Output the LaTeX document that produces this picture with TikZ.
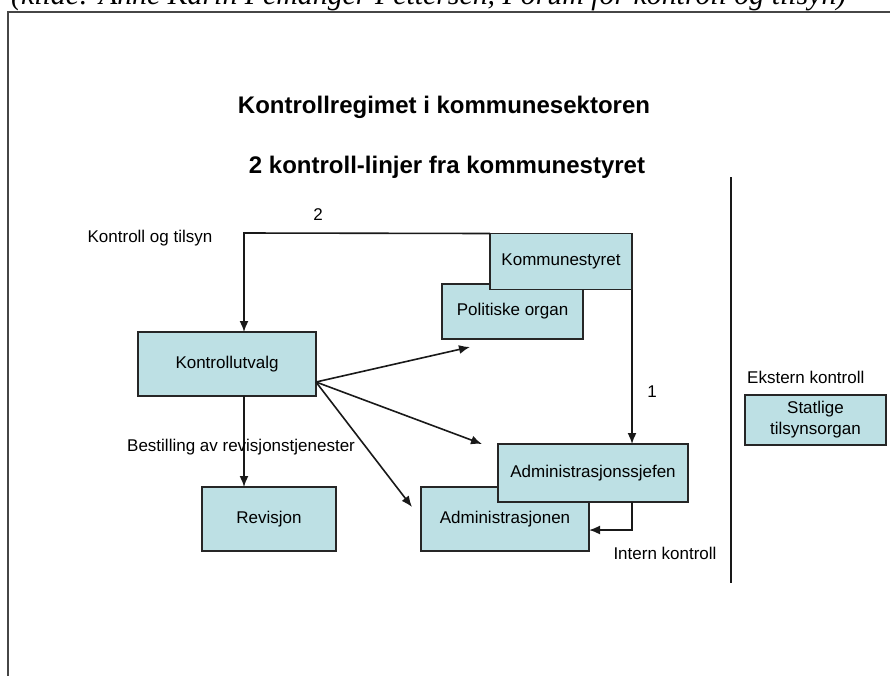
\documentclass[tikz,border=0pt]{standalone}
\usepackage{fontspec}
\setmainfont{Liberation Sans}
\newfontfamily\capfont{Liberation Serif}
\usetikzlibrary{calc,arrows.meta}
\definecolor{boxfill}{RGB}{189,224,228}
\definecolor{framegray}{RGB}{70,70,70}
\begin{document}
\begin{tikzpicture}[x=1pt,y=-1pt,
  orgbox/.style={draw=black!85,fill=boxfill,line width=1.5pt,inner sep=0pt,outer sep=0pt,
    align=center,font=\fontsize{17}{21}\selectfont},
  lbl/.style={inner sep=0pt,font=\fontsize{17}{21}\selectfont},
  ttl/.style={inner sep=0pt,font=\fontsize{24}{28}\selectfont\bfseries},
  conn/.style={line width=1.6pt,draw=black!90},
  arr/.style={conn,-{Latex[length=11pt,width=9pt]}}]
\useasboundingbox (0,0) rectangle (890,675);
\clip (0,0) rectangle (890,675);
\fill[white] (0,0) rectangle (890,675);
% caption (cut off at top)
\node[anchor=base west,inner sep=0pt] (cap) at (11,4)
  {\resizebox{835pt}{!}{\capfont\itshape (kilde: Anne Karin Femanger Pettersen, Forum for kontroll og tilsyn)}};
% frame
\draw[line width=1.8pt,draw=framegray] (8,676) -- (8,12) -- (891,12);
% titles
\node[ttl] (t1) at (444,107) {Kontrollregimet i kommunesektoren};
\node[ttl] (t2) at (447,167) {2 kontroll-linjer fra kommunestyret};
% boxes
\node[orgbox,minimum width=141pt,minimum height=55pt] (polit) at (512.5,311.5) {Politiske organ};
\node[orgbox,minimum width=142pt,minimum height=56pt] (kommune) at (561,261.5) {Kommunestyret};
\node[orgbox,minimum width=178pt,minimum height=64pt] (kutv) at (227,364) {Kontrollutvalg};
\node[orgbox,minimum width=134pt,minimum height=64pt] (rev) at (269,519) {Revisjon};
\node[orgbox,minimum width=168pt,minimum height=64pt] (adm) at (505,519) {Administrasjonen};
\node[orgbox,minimum width=190pt,minimum height=58pt] (sjef) at (593,473) {Administrasjonssjefen};
\node[orgbox,minimum width=141pt,minimum height=50pt] (stat) at (815.5,420) {Statlige\\tilsynsorgan};
% connectors
\coordinate (c2) at (244,233);
\draw[arr] (kommune.north west) -- (c2) -- (c2 |- kutv.north);
\draw[arr] (kommune.south east) -- (kommune.south east |- sjef.north);
\draw[arr] (c2 |- kutv.south) -- (c2 |- rev.north);
\coordinate (fan) at (316,382);
\draw[arr] (fan) -- ($(polit.south west)+(28,8)$);
\draw[arr] (fan) -- ($(sjef.north west)+(-16,0)$);
\draw[arr] (fan) -- ($(adm.north west)+(-9,20)$);
\coordinate (ik) at (632,530);
\draw[arr] (ik |- sjef.south) -- (ik) -- (ik -| adm.east);
% divider
\coordinate (d1) at (731,177);
\coordinate (d2) at (731,583);
\draw[conn] (d1) -- (d2);
% labels
\node[lbl] (l2) at (318,215) {2};
\node[lbl] (l1) at (652,392) {1};
\node[lbl] (kot) at (150,238) {Kontroll og tilsyn};
\node[lbl,anchor=west] (best) at (127,447) {Bestilling av revisjonstjenester};
\node[lbl] (ink) at (665,553) {Intern kontroll};
\node[lbl,anchor=west] (ekk) at (747,377) {Ekstern kontroll};
\end{tikzpicture}
\end{document}
